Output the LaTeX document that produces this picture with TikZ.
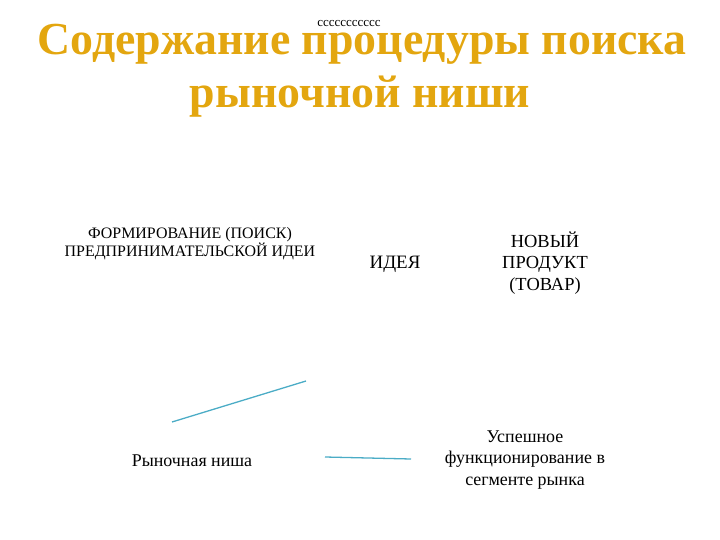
\documentclass[tikz,border=0pt]{standalone}
\usepackage{fontspec}
\setmainfont{Liberation Serif}
\definecolor{titlegold}{RGB}{227,166,15}
\definecolor{linkteal}{RGB}{75,172,198}

\begin{document}
\begin{tikzpicture}[x=1bp, y=-1bp,
    headline/.style={text=titlegold, font=\fontsize{46}{50}\selectfont\bfseries},
    plain/.style={align=center, inner sep=0pt},
    link/.style={linkteal, line width=1.3pt}]
            \useasboundingbox (0,0) rectangle (720,540);

            \node[headline, anchor=base] (title1) at (362,55) {Содержание процедуры поиска};
            \node[headline, anchor=base] (title2) at (360,108) {рыночной ниши};
            \node[anchor=base, font=\fontsize{13}{14}\selectfont] (marks) at (349,27) {ccccccccccc};

            \node[plain, font=\fontsize{16}{18}\selectfont] (search) at (190,244) {ФОРМИРОВАНИЕ (ПОИСК)\\ПРЕДПРИНИМАТЕЛЬСКОЙ ИДЕИ};
            \node[plain, font=\fontsize{19}{21.5}\selectfont] (idea) at (395,264) {ИДЕЯ};
            \node[plain, font=\fontsize{18.5}{21.5}\selectfont] (product) at (545,263) {НОВЫЙ\\ПРОДУКТ\\(ТОВАР)};
            \node[plain, font=\fontsize{18}{21}\selectfont] (niche) at (192,461) {Рыночная ниша};
            \node[plain, font=\fontsize{18}{21.5}\selectfont] (success) at (525,460) {Успешное\\функционирование в\\сегменте рынка};

            \coordinate (nicheup) at (172,422);
            \coordinate (ideadown) at (306,381);
            \coordinate (nicheright) at (325,457);
            \coordinate (successleft) at (411,459);

            \draw[link] (nicheup) -- (ideadown);
            \draw[link] (nicheright) -- (successleft);
        \end{tikzpicture}
\end{document}
